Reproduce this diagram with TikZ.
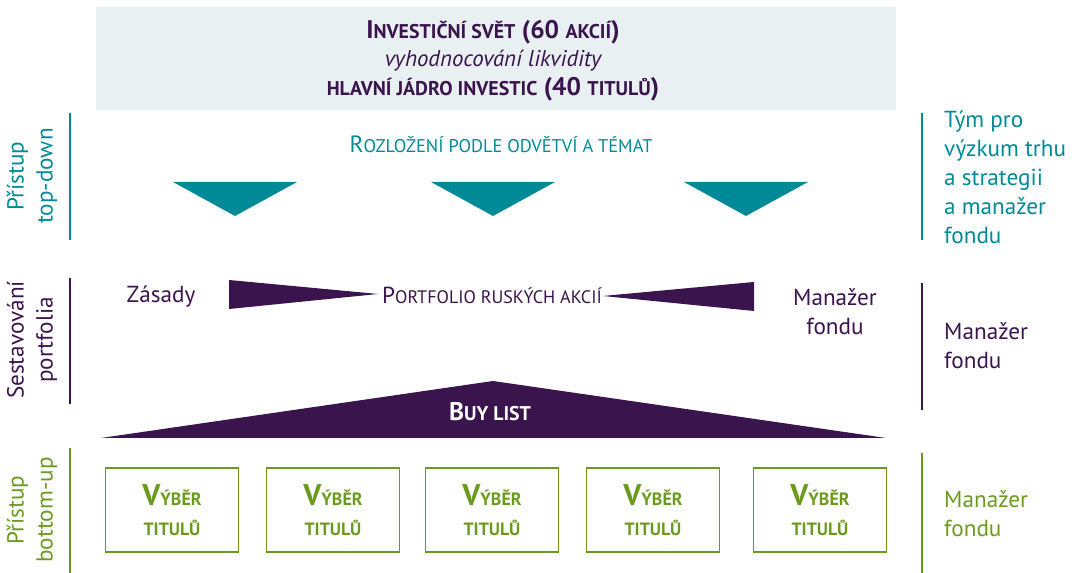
\documentclass[tikz,border=0pt]{standalone}
\usepackage{fontspec}
\usepackage{graphicx}
\setmainfont{PT Sans}
\definecolor{ocean}{HTML}{008A97}
\definecolor{plum}{HTML}{3A144C}
\definecolor{leaf}{HTML}{6C9A1F}
\definecolor{mist}{HTML}{E8F0F2}
\newcommand\capsm[1]{\scalebox{0.78}{#1}}
\tikzset{
  body/.style={font=\fontsize{13.2}{16.5}\selectfont},
  sidebar/.style={line width=1.6pt},
  sidelabel/.style={body, rotate=90, align=center},
  pickbox/.style={draw=leaf, line width=0.8pt, minimum width=76pt, minimum height=48pt,
    align=center, text=leaf, font=\bfseries\fontsize{13}{17}\selectfont}
}
\begin{document}
\begin{tikzpicture}[x=0.02cm,y=-0.02cm]
\useasboundingbox (0,0) rectangle (1072,573);

% investment universe
\fill[mist] (96,7) rectangle (896,110);
\node[plum, font=\bfseries\fontsize{14.5}{17}\selectfont] (world) at (493,32) {I\capsm{NVESTIČNÍ SVĚT} (60 \capsm{AKCIÍ})};
\node[plum, font=\itshape\fontsize{13}{16}\selectfont] (liquid) at (493,61) {vyhodnocování likvidity};
\node[plum, font=\bfseries\fontsize{14.5}{17}\selectfont] (core) at (493,89) {\capsm{HLAVNÍ JÁDRO INVESTIC} (40 \capsm{TITULŮ})};

% top-down
\draw[sidebar, ocean] (70,113) -- (70,240);
\node[sidelabel, ocean] (tdl) at (32,176) {Přístup\\top-down};
\draw[sidebar, ocean] (922,113) -- (922,240);
\node[body, ocean, align=left, anchor=west] (tdr) at (938,177) {Tým pro\\výzkum trhu\\a strategii\\a manažer\\fondu};
\node[ocean, font=\fontsize{13.4}{16}\selectfont] (sectors) at (501,144) {R\capsm{OZLOŽENÍ PODLE ODVĚTVÍ A TÉMAT}};
\foreach \cx in {235,493,746}
  \fill[ocean] (\cx-62,182) -- (\cx+62,182) -- (\cx,216) -- cycle;

% portfolio construction
\draw[sidebar, plum] (70,278) -- (70,404);
\node[sidelabel, plum] (pcl) at (32,340) {Sestavování\\portfolia};
\draw[sidebar, plum] (922,283) -- (922,410);
\node[body, plum, align=left, anchor=west] (pcr) at (938,346) {Manažer\\fondu};
\node[body, plum] (rules) at (161,297) {Zásady};
\node[body, plum, align=center] (manager) at (835,312) {Manažer\\fondu};
\node[plum, font=\fontsize{13.2}{16}\selectfont] (portfolio) at (492,295) {P\capsm{ORTFOLIO RUSKÝCH AKCIÍ}};
\fill[plum] (229,280) -- (378,294) -- (229,309) -- cycle;
\fill[plum] (754,282) -- (603,296) -- (754,311) -- cycle;
\fill[plum] (493,381) -- (886,438) -- (101,438) -- cycle;
\node[white, font=\bfseries\fontsize{14.5}{17}\selectfont] (buy) at (490,412) {B\capsm{UY LIST}};

% bottom-up
\draw[sidebar, leaf] (70,448) -- (70,573);
\node[sidelabel, leaf] (bul) at (32,510) {Přístup\\bottom-up};
\draw[sidebar, leaf] (922,453) -- (922,573);
\node[body, leaf, align=left, anchor=west] (bur) at (938,514) {Manažer\\fondu};
\foreach \cx [count=\i] in {172,333,492,653,820}
  \node[pickbox] (pick\i) at (\cx,510) {\fontsize{17}{17}\selectfont V\capsm{\fontsize{13}{17}\selectfont ÝBĚR}\\\capsm{TITULŮ}};
\end{tikzpicture}
\end{document}
